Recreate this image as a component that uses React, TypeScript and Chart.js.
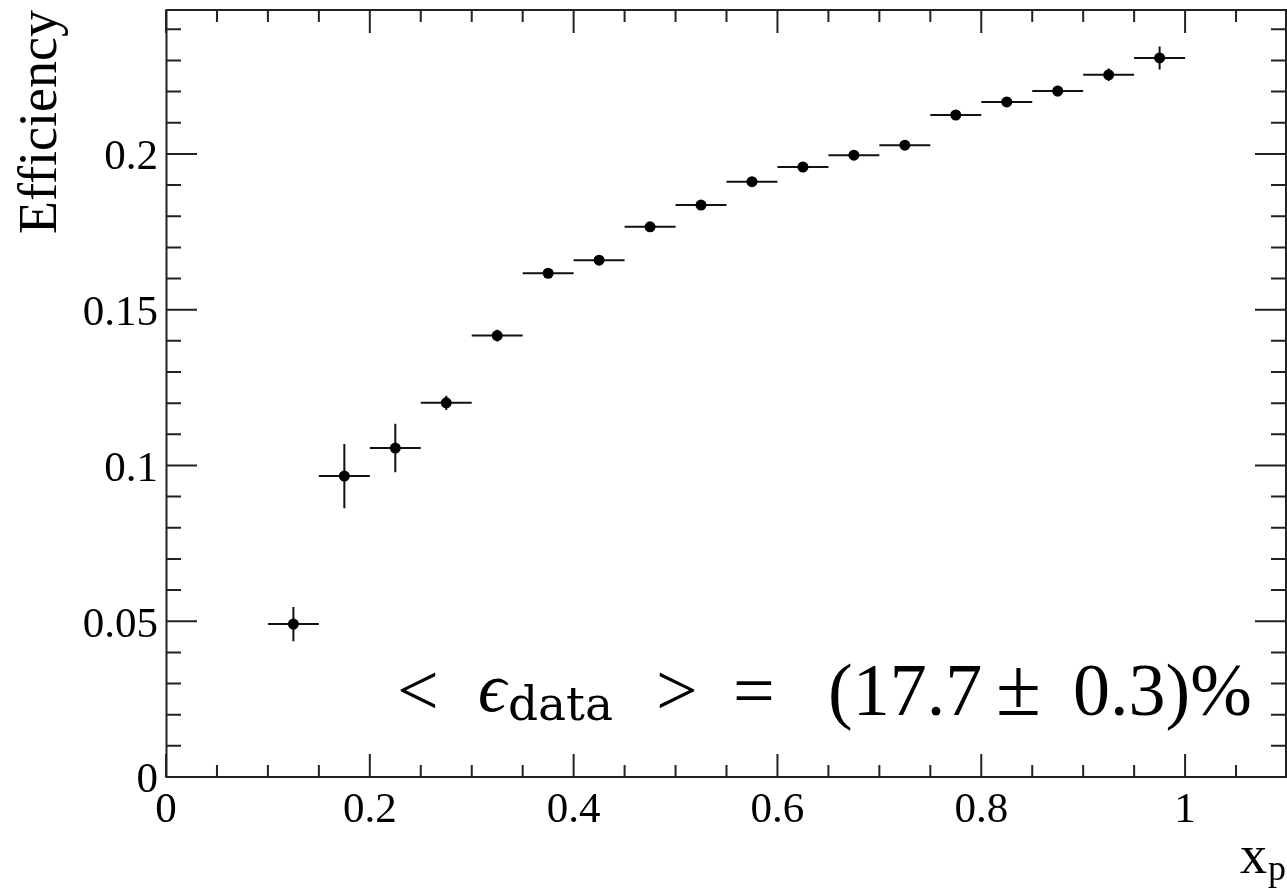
import React, { useEffect, useRef } from 'react';
import { Chart, registerables } from 'chart.js';

Chart.register(...registerables);

// ---- data ----
const binCenters = [0.125, 0.175, 0.225, 0.275, 0.325, 0.375, 0.425, 0.475, 0.525, 0.575, 0.625, 0.675, 0.725, 0.775, 0.825, 0.875, 0.925, 0.975];
const binHalfWidths = [0.025, 0.025, 0.025, 0.025, 0.025, 0.025, 0.025, 0.025, 0.025, 0.025, 0.025, 0.025, 0.025, 0.025, 0.025, 0.025, 0.025, 0.025];
const efficiency = [0.0491, 0.0966, 0.1056, 0.1201, 0.1417, 0.1617, 0.1659, 0.1766, 0.1836, 0.1911, 0.1958, 0.1996, 0.2028, 0.2125, 0.2167, 0.2202, 0.2254, 0.2308];
const efficiencyErrors = [0.0055, 0.0103, 0.0078, 0.0023, 0.0019, 0.0015, 0.0015, 0.0014, 0.0014, 0.0014, 0.0014, 0.0014, 0.0015, 0.0015, 0.0016, 0.0017, 0.002, 0.0037];

const xTickValues = [0, 0.2, 0.4, 0.6, 0.8, 1];
const yTickValues = [0, 0.05, 0.1, 0.15, 0.2];
const xMinorTickValues = [0.05, 0.1, 0.15, 0.25, 0.3, 0.35, 0.45, 0.5, 0.55, 0.65, 0.7, 0.75, 0.85, 0.9, 0.95, 1.05];
const yMinorTickValues = [0.01, 0.02, 0.03, 0.04, 0.06, 0.07, 0.08, 0.09, 0.11, 0.12, 0.13, 0.14, 0.16, 0.17, 0.18, 0.19, 0.21, 0.22, 0.23, 0.24];

const xTitle = 'x';
const xTitleSub = 'p';
const yTitle = 'Efficiency';
const annotationParts = ['<', 'ϵ', 'data', '>', '=', '(17.7', '±', '0.3)%'];

const SERIF = "'Liberation Serif', 'Times New Roman', 'DejaVu Serif', serif";
const FRAME = '#222';

const frameAndTicksPlugin = {
  id: 'frameAndTicks',
  beforeDatasetsDraw(chart: any) {
    const { ctx } = chart;
    const xs = chart.scales.x;
    const ys = chart.scales.y;
    ctx.save();
    ctx.strokeStyle = '#111';
    ctx.lineWidth = 2;
    ctx.beginPath();
    for (let i = 0; i < binCenters.length; i++) {
      const cx = xs.getPixelForValue(binCenters[i]);
      const cy = ys.getPixelForValue(efficiency[i]);
      const x0 = xs.getPixelForValue(binCenters[i] - binHalfWidths[i]);
      const x1 = xs.getPixelForValue(binCenters[i] + binHalfWidths[i]);
      const y0 = ys.getPixelForValue(efficiency[i] - efficiencyErrors[i]);
      const y1 = ys.getPixelForValue(efficiency[i] + efficiencyErrors[i]);
      ctx.moveTo(x0, cy);
      ctx.lineTo(x1, cy);
      ctx.moveTo(cx, y0);
      ctx.lineTo(cx, y1);
    }
    ctx.stroke();
    ctx.restore();
  },
  afterDraw(chart: any) {
    const { ctx, chartArea } = chart;
    const xs = chart.scales.x;
    const ys = chart.scales.y;
    const { left, right, top, bottom } = chartArea;
    ctx.save();
    ctx.strokeStyle = FRAME;
    ctx.lineWidth = 2;
    ctx.beginPath();
    ctx.rect(left + 0.5, top, right - left - 1.5, bottom - top);
    ctx.stroke();

    ctx.beginPath();
    const xMajor = 23, xMinor = 12, yMajor = 31, yMinor = 15;
    xTickValues.forEach((v) => {
      const p = xs.getPixelForValue(v);
      ctx.moveTo(p, bottom); ctx.lineTo(p, bottom - xMajor);
      ctx.moveTo(p, top); ctx.lineTo(p, top + xMajor);
    });
    xMinorTickValues.forEach((v) => {
      const p = xs.getPixelForValue(v);
      ctx.moveTo(p, bottom); ctx.lineTo(p, bottom - xMinor);
      ctx.moveTo(p, top); ctx.lineTo(p, top + xMinor);
    });
    yTickValues.forEach((v) => {
      const p = ys.getPixelForValue(v);
      ctx.moveTo(left, p); ctx.lineTo(left + yMajor, p);
      ctx.moveTo(right - 1, p); ctx.lineTo(right - 1 - yMajor, p);
    });
    yMinorTickValues.forEach((v) => {
      const p = ys.getPixelForValue(v);
      ctx.moveTo(left, p); ctx.lineTo(left + yMinor, p);
      ctx.moveTo(right - 1, p); ctx.lineTo(right - 1 - yMinor, p);
    });
    ctx.stroke();

    // axis titles
    ctx.fillStyle = '#000';
    ctx.font = `54px ${SERIF}`;
    ctx.save();
    ctx.translate(56, top);
    ctx.rotate(-Math.PI / 2);
    ctx.textAlign = 'right';
    ctx.textBaseline = 'alphabetic';
    ctx.fillText(yTitle, 0, 0);
    ctx.restore();

    ctx.textBaseline = 'alphabetic';
    ctx.textAlign = 'left';
    ctx.font = `36px ${SERIF}`;
    const subW = ctx.measureText(xTitleSub).width;
    ctx.font = `54px ${SERIF}`;
    const xW = ctx.measureText(xTitle).width;
    const xEnd = chart.width - 1;
    ctx.fillText(xTitle, xEnd - subW - xW - 1, 873);
    ctx.font = `36px ${SERIF}`;
    ctx.fillText(xTitleSub, xEnd - subW, 880);

    // annotation
    const big = `74px ${SERIF}`;
    const base = 715;
    const offs = [231, 312, 342, 490, 567, 662, 832, 907];
    ctx.font = big;
    ctx.fillText(annotationParts[0], left + offs[0], base);
    ctx.font = `italic 70px ${SERIF}`;
    ctx.fillText(annotationParts[1], left + offs[1], base - 4);
    ctx.font = `47px 'DejaVu Serif', serif`;
    ctx.fillText(annotationParts[2], left + offs[2], base + 5);
    ctx.font = big;
    ctx.fillText(annotationParts[3], left + offs[3], base);
    ctx.fillText(annotationParts[4], left + offs[4], base);
    ctx.fillText(annotationParts[5], left + offs[5], base);
    ctx.font = `82px ${SERIF}`;
    ctx.fillText(annotationParts[6], left + offs[6] - 2, base);
    ctx.font = big;
    ctx.fillText(annotationParts[7], left + offs[7], base);
    ctx.restore();
  },
};

export default function App() {
  const canvasRef = useRef<HTMLCanvasElement | null>(null);

  useEffect(() => {
    document.body.style.margin = '0';
    const canvas = canvasRef.current;
    if (!canvas) return;
    const tickFont = { family: SERIF, size: 43 };
    const chart = new Chart(canvas, {
      type: 'scatter',
      data: {
        datasets: [
          {
            data: binCenters.map((x, i) => ({ x, y: efficiency[i] })),
            backgroundColor: '#000',
            borderColor: '#000',
            pointRadius: 5.5,
            pointHoverRadius: 5.5,
            borderWidth: 0,
            showLine: false,
          },
        ],
      },
      options: {
        animation: false,
        responsive: true,
        maintainAspectRatio: false,
        events: [],
        layout: { autoPadding: false, padding: { top: 10, right: 0, left: 0, bottom: 0 } },
        plugins: { legend: { display: false }, tooltip: { enabled: false } },
        scales: {
          x: {
            type: 'linear',
            min: 0,
            max: 1.1,
            grid: { display: false, drawTicks: false },
            border: { display: false },
            afterBuildTicks: (s: any) => {
              s.ticks = xTickValues.map((value) => ({ value }));
            },
            afterFit: (s: any) => {
              s.height = 113;
              s.paddingLeft = 0;
              s.paddingRight = 0;
            },
            ticks: {
              font: tickFont,
              color: '#000',
              padding: 8,
              maxRotation: 0,
              autoSkip: false,
              callback: (v: any) => String(v),
            },
          },
          y: {
            type: 'linear',
            min: 0,
            max: 0.2462,
            grid: { display: false, drawTicks: false },
            border: { display: false },
            afterBuildTicks: (s: any) => {
              s.ticks = yTickValues.map((value) => ({ value }));
            },
            afterFit: (s: any) => {
              s.width = 166;
              s.paddingTop = 0;
              s.paddingBottom = 0;
            },
            ticks: {
              font: tickFont,
              color: '#000',
              padding: 8,
              labelOffset: 4,
              autoSkip: false,
              callback: (v: any) => String(v),
            },
          },
        },
      },
      plugins: [frameAndTicksPlugin],
    });
    return () => chart.destroy();
  }, []);

  return (
    <div style={{ position: 'fixed', left: 0, top: 0, width: 1287, height: 890, background: '#fff' }}>
      <canvas ref={canvasRef} />
    </div>
  );
}
